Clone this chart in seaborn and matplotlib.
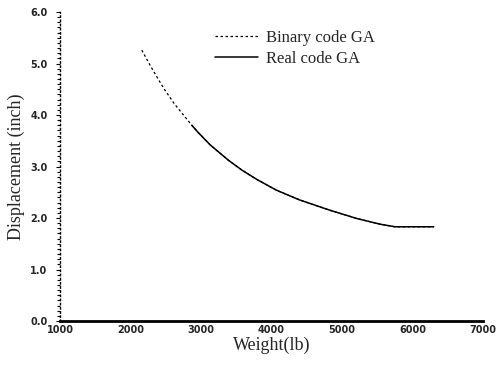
import matplotlib
matplotlib.use("Agg")
import matplotlib.pyplot as plt
import seaborn as sns
import pandas as pd
from matplotlib.ticker import MultipleLocator

binary_weight = [2160, 2280, 2400, 2480, 2620, 2870, 2960, 3130, 3390, 3580, 3790, 4070, 4400, 4830, 5210, 5540, 5750, 6000, 6300]
binary_disp = [5.26, 4.96, 4.68, 4.50, 4.22, 3.80, 3.66, 3.42, 3.12, 2.93, 2.75, 2.54, 2.35, 2.15, 1.99, 1.88, 1.83, 1.83, 1.83]
real_weight = [2870, 2960, 3130, 3390, 3580, 3790, 4070, 4400, 4830, 5210, 5540, 5750, 6000, 6300]
real_disp = [3.80, 3.66, 3.42, 3.12, 2.93, 2.75, 2.54, 2.35, 2.15, 1.99, 1.88, 1.83, 1.83, 1.83]
x_ticks = [1000, 2000, 3000, 4000, 5000, 6000, 7000]
y_ticks = [0.0, 1.0, 2.0, 3.0, 4.0, 5.0, 6.0]

sns.set_theme(style="white")
plt.rcParams['font.family'] = ['Liberation Serif', 'DejaVu Serif']

df_b = pd.DataFrame({"w": binary_weight, "d": binary_disp})
df_r = pd.DataFrame({"w": real_weight, "d": real_disp})

fig = plt.figure(figsize=(4.98, 3.67), dpi=100)
ax = fig.add_axes([0.1205, 0.1253, 0.8495, 0.842])

sns.lineplot(data=df_b, x="w", y="d", ax=ax, color="black", linestyle=(0, (2, 2)),
             linewidth=0.9, label="Binary code GA")
sns.lineplot(data=df_r, x="w", y="d", ax=ax, color="black", linestyle="-",
             linewidth=1.1, label="Real code GA")

ax.set_xlim(1000, 7000)
ax.set_ylim(0, 6.0)
ax.set_xticks(x_ticks)
ax.set_yticks(y_ticks)
ax.set_xticklabels([str(t) for t in x_ticks], fontsize=7, fontweight="bold", family="DejaVu Sans")
ax.set_yticklabels([f"{t:.1f}" for t in y_ticks], fontsize=7, fontweight="bold", family="DejaVu Sans")
ax.yaxis.set_minor_locator(MultipleLocator(0.1))
ax.tick_params(axis="y", which="minor", length=2, width=0.8, direction="out", color="black", left=True)
ax.tick_params(axis="y", which="major", length=3, width=0.8, direction="out", color="black", left=True, pad=6)
ax.tick_params(axis="x", which="major", length=0, pad=3)

for s in ["top", "right"]:
    ax.spines[s].set_visible(False)
ax.spines["left"].set_linestyle((0, (1, 2)))
ax.spines["left"].set_color("black")
ax.spines["left"].set_linewidth(1.0)
ax.spines["bottom"].set_color("black")
ax.spines["bottom"].set_linewidth(2.0)

ax.set_xlabel("Weight(lb)", fontsize=13, labelpad=1)
ax.set_ylabel("Displacement (inch)", fontsize=13, labelpad=4)

ax.legend(loc="upper left", bbox_to_anchor=(0.33, 0.99), frameon=False, fontsize=12,
          handlelength=2.6, handletextpad=0.5, labelspacing=0.3)

fig.savefig("out.png", dpi=100)
